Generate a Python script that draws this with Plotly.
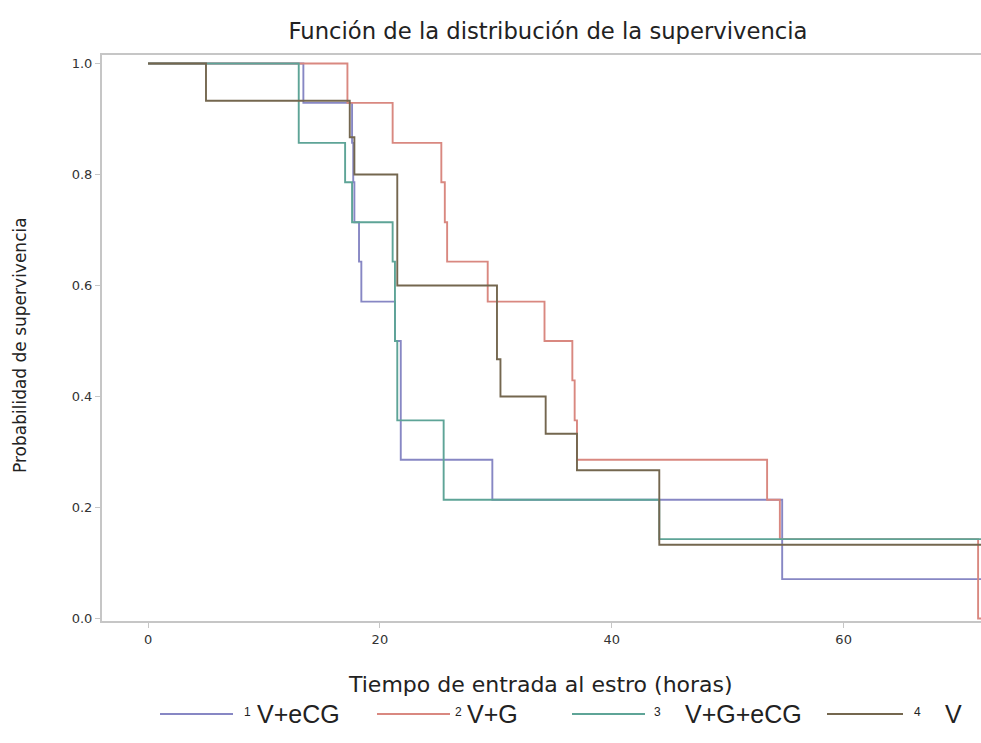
import plotly.graph_objects as go

# ---- data ----
group_names = ["V+eCG", "V+G", "V+G+eCG", "V"]
group_ids = ["1", "2", "3", "4"]

t_veCG = [0, 13.4, 17.6, 17.7, 17.8, 18.2, 18.4, 21.3, 21.8, 29.7, 54.7, 72.5]
s_veCG = [1.0, 0.929, 0.857, 0.786, 0.714, 0.643, 0.571, 0.5, 0.286, 0.214, 0.071, 0.071]

t_vG = [0, 17.2, 21.1, 25.3, 25.6, 25.8, 29.3, 34.2, 36.6, 36.8, 37.0, 53.4, 54.5, 71.6, 72.5]
s_vG = [1.0, 0.929, 0.857, 0.786, 0.714, 0.643, 0.571, 0.5, 0.429, 0.357, 0.286, 0.214, 0.143, 0.0, 0.0]

t_vGeCG = [0, 13.0, 17.0, 17.6, 21.1, 21.3, 21.5, 25.5, 44.1, 72.5]
s_vGeCG = [1.0, 0.857, 0.786, 0.714, 0.643, 0.5, 0.357, 0.214, 0.143, 0.143]

t_v = [0, 5.0, 17.4, 17.8, 21.5, 30.1, 30.4, 34.3, 37.0, 44.1, 72.5]
s_v = [1.0, 0.933, 0.867, 0.8, 0.6, 0.467, 0.4, 0.333, 0.267, 0.133, 0.133]

x_ticks = [0, 20, 40, 60]
y_ticks = [0.0, 0.2, 0.4, 0.6, 0.8, 1.0]

series_t = [t_veCG, t_vG, t_vGeCG, t_v]
series_s = [s_veCG, s_vG, s_vGeCG, s_v]
colors = ["#8787c4", "#d98880", "#5ea497", "#74674f"]

W, H = 981, 743
ML, MR, MT, MB = 102, 0, 55, 122
PW, PH = W - ML - MR, H - MT - MB


def px(x):
    return (x - ML) / PW


def py(y):
    return (H - MB - y) / PH


fig = go.Figure()
for gid, name, t, s, c in zip(group_ids, group_names, series_t, series_s, colors):
    fig.add_trace(go.Scatter(
        x=t, y=s, mode="lines", line=dict(shape="hv", color=c, width=1.9),
        name=f"{gid} {name}", showlegend=False,
    ))

axis_col = "#c6c6c6"
FONT = "DejaVu Sans, Liberation Sans, Arial, sans-serif"
LEG_FONT = "Liberation Sans, Arial, sans-serif"
tick_font = dict(family=FONT, size=13, color="#333333")

fig.update_layout(
    width=W, height=H,
    margin=dict(l=ML, r=MR, t=MT, b=MB, autoexpand=False),
    plot_bgcolor="white", paper_bgcolor="white",
    font=dict(family=FONT, color="#222222"),
    title=dict(text="Función de la distribución de la supervivencia",
               x=548 / W, xanchor="center", y=1 - 31 / H, yanchor="middle",
               font=dict(size=22.7, color="#222222")),
    xaxis=dict(range=[-3.97, 71.85], tickvals=x_ticks, ticktext=[str(v) for v in x_ticks],
               showgrid=False, zeroline=False, showline=True, linecolor=axis_col, linewidth=2,
               mirror=True, ticks="outside", ticklen=5, tickcolor=axis_col, tickfont=tick_font),
    yaxis=dict(range=[-0.0045, 1.0153], tickvals=y_ticks, ticktext=[f"{v:.1f}" for v in y_ticks],
               showgrid=False, zeroline=False, showline=True, linecolor=axis_col, linewidth=2,
               ticks="outside", ticklen=5, tickcolor=axis_col, tickfont=tick_font),
    showlegend=False,
)

fig.add_annotation(text="Tiempo de entrada al estro (horas)", xref="paper", yref="paper",
                   x=px(540), y=py(684), xanchor="center", yanchor="middle", showarrow=False,
                   font=dict(size=22, color="#222222"))
fig.add_annotation(text="Probabilidad de supervivencia", xref="paper", yref="paper",
                   x=px(20), y=py(345), xanchor="center", yanchor="middle", textangle=-90,
                   showarrow=False, font=dict(size=17, color="#222222"))

# ---- legend (drawn manually to match the long line samples) ----
leg_y = 714
leg_line_x = [(160, 233), (377, 450), (572, 645), (827, 903)]
leg_num_x = [247, 458, 657, 917]
leg_txt_x = [255, 465, 683, 943]
for (x0, x1), nx, tx, gid, name, c in zip(leg_line_x, leg_num_x, leg_txt_x,
                                           group_ids, group_names, colors):
    fig.add_shape(type="line", xref="paper", yref="paper",
                  x0=px(x0), x1=px(x1), y0=py(leg_y), y1=py(leg_y),
                  line=dict(color=c, width=2))
    fig.add_annotation(text=gid, xref="paper", yref="paper", x=px(nx), y=py(leg_y - 2),
                       xanchor="center", yanchor="middle", showarrow=False,
                       font=dict(family=LEG_FONT, size=12, color="#222222"))
    fig.add_annotation(text=name, xref="paper", yref="paper", x=px(tx), y=py(leg_y),
                       xanchor="left", yanchor="middle", showarrow=False,
                       font=dict(family=LEG_FONT, size=25, color="#222222"))

fig.write_html(
    "out.html",
    config={"displayModeBar": False},
    post_script="document.body.style.margin='0';document.body.style.overflow='hidden';",
)
